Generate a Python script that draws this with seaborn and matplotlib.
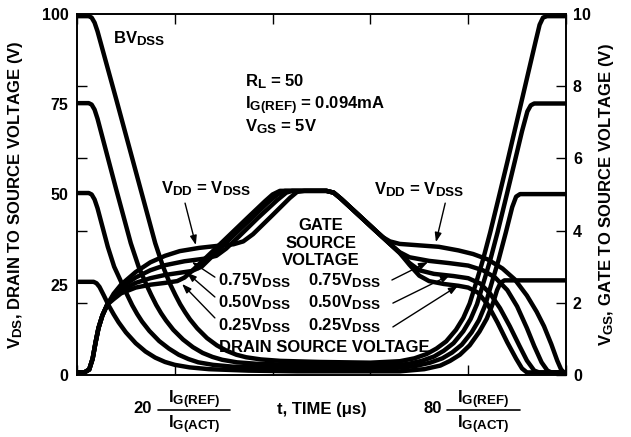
import matplotlib
matplotlib.use("Agg")
import matplotlib.pyplot as plt
import matplotlib._mathtext as mathtext_internals
import seaborn as sns
import pandas as pd

# drain-source voltage curves (left axis, V), one per V_DD
d100_t = [0, 2.4, 3.0, 3.6, 4.2, 8, 12, 16, 17.6, 19.1, 20.1, 21.1, 22.1, 23.1, 24.6, 26.6, 28.6, 30.6, 32.6, 34.6,
          37.6, 41.6, 49.6, 60, 66, 69, 71.5, 73.5, 75.5, 77.5, 79, 80.3, 81.5, 83, 84.5, 86, 88, 90.6, 92.5, 93.8,
          94.6, 95.3, 96.1, 100]
d100_v = [99.4, 99.4, 99, 97.6, 95.2, 76.5, 56.5, 36.5, 30, 25, 22.2, 19.6, 17.4, 15.4, 12.9, 10.2, 8.2, 6.7, 5.6, 4.9,
          4.3, 3.9, 3.6, 3.4, 3.8, 4.6, 5.8, 7.3, 9.3, 12.5, 15.8, 19.8, 25, 31.8, 39.5, 47.8, 59, 74, 85, 92.5,
          97, 99, 99.4, 99.4]
d75_t = [0, 2.4, 3.0, 3.6, 4.2, 8, 11, 12.6, 14.2, 15.2, 16.2, 17.2, 18.2, 19.7, 21.7, 23.7, 25.7, 27.7, 29.7, 32.7,
         36.7, 44.7, 55, 62, 67.5, 70.5, 73, 75, 77, 79, 80.5, 81.8, 83, 84.5, 86, 87.5, 89.5, 91, 92.1, 92.8, 93.5, 100]
d75_v = [75.3, 75.3, 74.9, 73.5, 71, 51.5, 36.5, 30, 25, 22.1, 19.4, 17.1, 15.1, 12.5, 9.8, 7.7, 6.1, 5, 4.2, 3.5,
         3.1, 2.8, 2.6, 2.6, 3.0, 3.9, 5.1, 6.7, 8.8, 12.1, 15.5, 19.6, 25, 31.8, 39.5, 47.8, 59, 67.5, 73, 74.7, 75.2, 75.2]
d50_t = [0, 2.4, 3.0, 3.6, 4.2, 6.3, 7.6, 9.3, 10.3, 11.3, 12.3, 13.3, 14.8, 16.8, 18.8, 20.8, 22.8, 24.8, 27.8, 31.8,
         39.8, 50, 64, 69, 72.2, 74.7, 76.7, 78.7, 80.7, 82.2, 83.5, 84.7, 86.2, 87.7, 89, 89.8, 90.6, 100]
d50_v = [50.4, 50.4, 50, 48.6, 46.2, 35.5, 30, 25, 22.1, 19.3, 16.9, 14.8, 12.2, 9.4, 7.3, 5.6, 4.4, 3.5, 2.8, 2.3,
         2.0, 1.8, 1.8, 2.4, 3.4, 4.6, 6.2, 8.4, 11.8, 15.2, 19.4, 25, 31.8, 39.5, 46.5, 49.4, 50.1, 50.1]
d25_t = [0, 3.4, 4.0, 4.6, 5.5, 6.5, 7.5, 8.5, 10, 12, 14, 16, 18, 20, 23, 27, 35, 45, 66, 71,
         74.3, 76.3, 78.3, 80.3, 82.3, 83.8, 85.1, 85.9, 86.6, 87.4, 100]
d25_v = [25.8, 25.8, 25.4, 24.4, 22, 19.2, 16.8, 14.6, 11.8, 8.8, 6.5, 4.8, 3.6, 2.8, 2.1, 1.6, 1.2, 1.0, 1.0, 1.6,
         2.6, 3.9, 5.6, 8.2, 12, 15.6, 20, 23.5, 25.5, 26.2, 26.2]

# gate-source voltage curves (right axis, V)
g100_t = [0, 1.5, 2.5, 3.2, 3.8, 4.4, 5.2, 6.2, 7.5, 9, 12, 15, 18, 21, 25, 29, 32, 34, 36, 40, 43.5, 45, 46.5, 51,
          52.5, 54, 58, 61, 62.5, 64, 66, 70, 74, 78, 81, 84, 87, 89.5, 92, 94, 95.5, 97, 98.2, 99, 99.6, 100]
g100_v = [0.07, 0.07, 0.15, 0.45, 0.9, 1.3, 1.65, 1.95, 2.25, 2.5, 2.85, 3.12, 3.3, 3.43, 3.52, 3.58, 3.62, 3.7, 3.9,
          4.43, 4.9, 5.07, 5.1, 5.1, 5.05, 4.88, 4.38, 4.0, 3.82, 3.7, 3.63, 3.59, 3.55, 3.45, 3.35, 3.2, 2.95, 2.65,
          2.2, 1.75, 1.35, 0.85, 0.4, 0.15, 0.07, 0.07]
g75_t = [0, 1.5, 2.5, 3.2, 3.8, 4.4, 5.2, 6.2, 7.5, 9, 12, 15, 18, 22, 26, 28.5, 30.5, 33, 37, 41, 42.8, 44, 51, 52.5,
         54, 58, 62, 64, 66, 68, 72, 76, 80, 83, 85.5, 88, 90, 92, 93.5, 95, 96.2, 97, 100]
g75_v = [0.07, 0.07, 0.15, 0.45, 0.9, 1.3, 1.65, 1.95, 2.2, 2.42, 2.7, 2.9, 3.04, 3.15, 3.22, 3.3, 3.5, 3.82, 4.35,
         4.85, 5.05, 5.1, 5.1, 5.05, 4.88, 4.38, 3.88, 3.63, 3.4, 3.26, 3.16, 3.1, 3.03, 2.9, 2.7, 2.35, 1.9, 1.3,
         0.8, 0.35, 0.12, 0.07, 0.07]
g50_t = [0, 1.5, 2.5, 3.2, 3.8, 4.4, 5.2, 6.2, 7.5, 9, 12, 15, 18, 21, 23.5, 25.5, 27, 30, 35, 39, 41, 42.5, 51, 52.5,
         54, 58, 62, 64, 66, 68, 70, 73, 77, 80, 82.5, 84.5, 86.5, 88.5, 90.5, 92, 93.5, 94.5, 100]
g50_v = [0.07, 0.07, 0.15, 0.45, 0.9, 1.3, 1.65, 1.95, 2.15, 2.34, 2.55, 2.68, 2.77, 2.83, 2.88, 3.0, 3.2, 3.6, 4.25,
         4.77, 5.0, 5.1, 5.1, 5.05, 4.88, 4.38, 3.88, 3.63, 3.38, 3.1, 2.9, 2.8, 2.74, 2.68, 2.53, 2.25, 1.85, 1.35,
         0.8, 0.4, 0.12, 0.07, 0.07]
g25_t = [0, 1.5, 2.5, 3.2, 3.8, 4.4, 5.2, 6.2, 7.5, 9, 12, 15, 18, 20.5, 22, 23.5, 26, 30, 35, 38.5, 40, 41.5, 51,
         52.5, 54, 58, 62, 64, 66, 68, 70, 72, 75, 78, 80, 82, 84, 86, 88, 89.8, 91, 92, 100]
g25_v = [0.07, 0.07, 0.15, 0.45, 0.9, 1.3, 1.65, 1.95, 2.1, 2.26, 2.42, 2.5, 2.55, 2.6, 2.7, 2.88, 3.2, 3.72, 4.37,
         4.82, 5.0, 5.1, 5.1, 5.05, 4.88, 4.38, 3.88, 3.63, 3.38, 3.05, 2.75, 2.6, 2.52, 2.47, 2.42, 2.28, 1.95,
         1.45, 0.9, 0.45, 0.18, 0.07, 0.07]

left_ticks = [0, 25, 50, 75, 100]
right_ticks = [0, 2, 4, 6, 8, 10]
time_marks = ["20", "80"]

# long tables for seaborn
vds = pd.concat([pd.DataFrame({"t": t, "v": v, "curve": name}) for name, t, v in
                 [("100", d100_t, d100_v), ("75", d75_t, d75_v), ("50", d50_t, d50_v), ("25", d25_t, d25_v)]])
vgs = pd.concat([pd.DataFrame({"t": t, "v": v, "curve": name}) for name, t, v in
                 [("100", g100_t, g100_v), ("75", g75_t, g75_v), ("50", g50_t, g50_v), ("25", g25_t, g25_v)]])

sns.set_style("ticks", {"axes.edgecolor": "black", "xtick.color": "black", "ytick.color": "black",
                        "text.color": "black", "axes.labelcolor": "black"})
plt.rcParams["font.family"] = ["Liberation Sans", "DejaVu Sans"]
plt.rcParams["font.weight"] = "bold"
plt.rcParams["axes.labelweight"] = "bold"
plt.rcParams["mathtext.default"] = "regular"
plt.rcParams["axes.linewidth"] = 1.2
mathtext_internals.SHRINK_FACTOR = 0.8  # subscripts a bit larger, like the datasheet

fig = plt.figure(figsize=(6.31, 4.37), dpi=100, facecolor="w")
ax = fig.add_axes([0.122, 0.142, 0.775, 0.826])
ax2 = ax.twinx()

lw = 3.2
sns.lineplot(data=vds, x="t", y="v", units="curve", estimator=None, sort=False,
             color="black", linewidth=lw, ax=ax, legend=False)
sns.lineplot(data=vgs, x="t", y="v", units="curve", estimator=None, sort=False,
             color="black", linewidth=lw, ax=ax2, legend=False)

ax.set_xlim(0, 100)
ax.set_ylim(0, 100)
ax2.set_ylim(0, 10)

ax.set_xticks(range(0, 101, 20))
ax.tick_params(axis="x", direction="in", length=7, width=1, top=True, labelbottom=False)
ax.set_yticks(left_ticks)
ax.set_yticks([20, 40, 60, 80], minor=True)
ax.tick_params(axis="y", which="major", length=0, pad=6, labelsize=11.5)
ax.tick_params(axis="y", which="minor", direction="in", length=7, width=1)
ax2.set_yticks(right_ticks)
ax2.tick_params(axis="y", direction="in", length=7, width=1, pad=5, labelsize=11.5)

ax.set_xlabel("")
ax.set_ylabel(r"$V_{DS}$, DRAIN TO SOURCE VOLTAGE (V)", fontsize=12)
ax.yaxis.set_label_coords(-0.106, 0.5)
ax2.set_ylabel(r"$V_{GS}$, GATE TO SOURCE VOLTAGE (V)", fontsize=12)
ax2.yaxis.set_label_coords(1.063, 0.5)

fs = 12

# x-axis captions: "20 IG(REF)/IG(ACT)" and "80 ..." built from pieces
xt = ax.get_xaxis_transform()
for mark, x_num, x_mid, bar in zip(time_marks, [15.3, 74.6], [23.9, 83.0], [(16.6, 31.3), (75.7, 90.6)]):
    ax.text(x_num, -0.105, mark, transform=xt, ha="right", va="baseline", fontsize=fs)
    ax.text(x_mid, -0.078, r"$I_{G(REF)}$", transform=xt, ha="center", va="baseline", fontsize=fs)
    ax.text(x_mid, -0.148, r"$I_{G(ACT)}$", transform=xt, ha="center", va="baseline", fontsize=fs)
    ax.plot(bar, [-0.097, -0.097], transform=xt, color="black", lw=1.2, clip_on=False)
ax.text(50, -0.097, "t, TIME (μs)", transform=xt, ha="center", va="center", fontsize=fs)

ax.text(7.4, 92, r"$BV_{DSS}$", ha="left", va="baseline", fontsize=fs)
ax.text(34.4, 79.9, r"$R_L$ = 50", ha="left", va="baseline", fontsize=fs)
ax.text(34.4, 73.6, r"$I_{G(REF)}$ = 0.094mA", ha="left", va="baseline", fontsize=fs)
ax.text(34.4, 67.4, r"$V_{GS}$ = 5V", ha="left", va="baseline", fontsize=fs)

for word, yb in [("GATE", 40.2), ("SOURCE", 35.2), ("VOLTAGE", 30.5)]:
    ax.text(49.9, yb, word, ha="center", va="baseline", fontsize=fs)
ax.text(50.5, 6.4, "DRAIN SOURCE VOLTAGE", ha="center", va="baseline", fontsize=fs)

arrow = dict(arrowstyle="-|>,head_length=0.55,head_width=0.2", lw=1.0, color="black",
             shrinkA=0, shrinkB=0)
ax.text(26.3, 50.4, r"$V_{DD}$ = $V_{DSS}$", ha="center", va="baseline", fontsize=fs)
ax.annotate("", xy=(24.3, 36.0), xytext=(22.1, 47.6), arrowprops=arrow)
ax.text(69.9, 50.0, r"$V_{DD}$ = $V_{DSS}$", ha="center", va="baseline", fontsize=fs)
ax.annotate("", xy=(73.4, 36.8), xytext=(75.3, 47.6), arrowprops=arrow)

fractions = ["0.75", "0.50", "0.25"]
base_y = [24.9, 18.8, 12.5]
left_tips = [(23.5, 31.3), (22.5, 28.3), (21.5, 25.2)]
left_tails = [(28.2, 27.1), (28.2, 21.6), (28.2, 15.8)]
right_tips = [(71.8, 31.3), (76.3, 27.7), (77.9, 24.7)]
right_tails = [(64.4, 26.3), (64.6, 19.9), (64.6, 13.3)]
for f, yb, lt, ltl, rt, rtl in zip(fractions, base_y, left_tips, left_tails, right_tips, right_tails):
    ax.text(28.8, yb, f + r"$V_{DSS}$", ha="left", va="baseline", fontsize=fs)
    ax.text(47.2, yb, f + r"$V_{DSS}$", ha="left", va="baseline", fontsize=fs)
    ax.annotate("", xy=lt, xytext=ltl, arrowprops=arrow)
    ax.annotate("", xy=rt, xytext=rtl, arrowprops=arrow)

fig.savefig("out.png", dpi=100)
